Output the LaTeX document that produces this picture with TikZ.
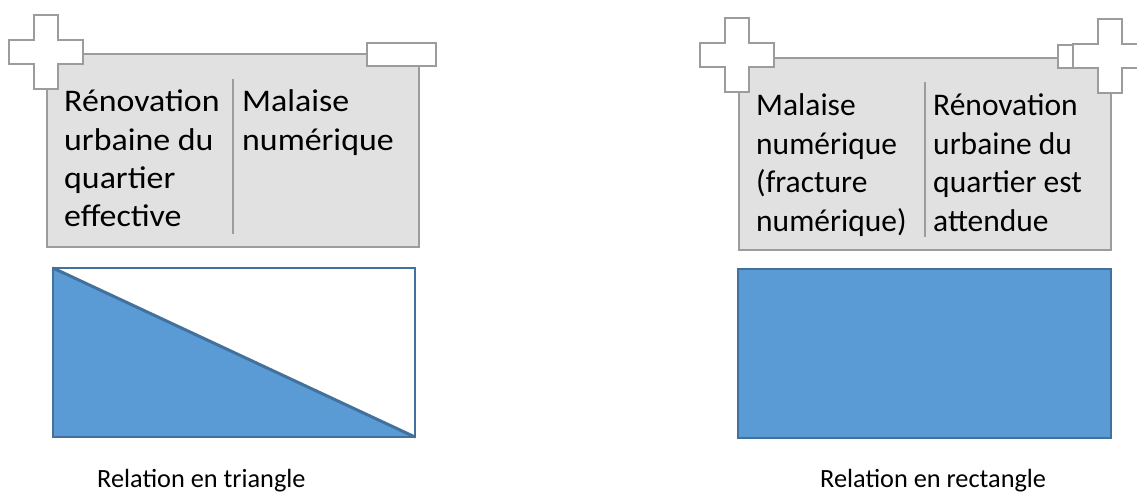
\documentclass[tikz,border=0pt]{standalone}
\usepackage{fontspec}
\setmainfont{Carlito}
\definecolor{boxfill}{HTML}{E1E1E1}
\definecolor{boxline}{HTML}{9C9C9C}
\definecolor{bluefill}{HTML}{5B9BD5}
\definecolor{blueline}{HTML}{41719C}
\tikzset{
  term/.style={draw=boxline, line width=2pt, fill=white},
  battery/.style={draw=boxline, line width=2pt, fill=boxfill},
  divider/.style={draw=boxline, line width=2pt},
  bluebox/.style={draw=blueline, line width=1.8pt},
  coltext/.style={anchor=base west, inner sep=0pt, font=\fontsize{31.5}{38.4}\selectfont},
  caption/.style={anchor=base west, inner sep=0pt, font=\fontsize{26.3}{30}\selectfont},
  plusterm/.pic={
    \path[term] (-12,-37) -- (12,-37) -- (12,-12) -- (37,-12) -- (37,12) -- (12,12)
      -- (12,37) -- (-12,37) -- (-12,12) -- (-37,12) -- (-37,-12) -- (-12,-12) -- cycle;
  }
}
\begin{document}
\begin{tikzpicture}[x=1pt,y=-1pt]
\useasboundingbox (0,0) rectangle (1137,492);
% ---------- left battery ----------
\path[battery] (47,54) rectangle (419,247);
\pic at (45.5,52.5) {plusterm};
\path[term] (367,43) rectangle (436,66);
\coordinate (d1t) at (233,79);
\coordinate (d1b) at (233,234);
\draw[divider] (d1t) -- (d1b);
\node[coltext] (l1) at (64,111.7) {\scalebox{1.075}[1]{\begin{tabular}[t]{@{}l@{}}Rénovation\\urbaine du\\quartier\\effective\end{tabular}}};
\node[coltext] (l2) at (242,111.7) {\scalebox{1.075}[1]{\begin{tabular}[t]{@{}l@{}}Malaise\\numérique\end{tabular}}};
% ---------- right battery ----------
\path[battery] (739,58) rectangle (1111,250);
\pic at (736.5,55) {plusterm};
\path[term] (1058,45) rectangle (1100,68);
\pic at (1110,56.5) {plusterm};
\coordinate (d2t) at (925,82);
\coordinate (d2b) at (925,237);
\draw[divider] (d2t) -- (d2b);
\node[coltext] (r1) at (756,116) {\begin{tabular}[t]{@{}l@{}}Malaise\\numérique\\(fracture\\numérique)\end{tabular}};
\node[coltext] (r2) at (933,116) {\begin{tabular}[t]{@{}l@{}}Rénovation\\urbaine du\\quartier est\\attendue\end{tabular}};
% ---------- triangle relation ----------
\path[bluebox, fill=white] (53,268) rectangle (415,437);
\fill[bluefill] (53,268) -- (53,437) -- (415,437) -- cycle;
\draw[bluebox] (53,268) rectangle (415,437);
\draw[blueline, line width=3pt] (53,268) -- (415,437);
\node[caption] (c1) at (97,487.5) {Relation en triangle};
% ---------- rectangle relation ----------
\path[bluebox, fill=bluefill] (738,269) rectangle (1111,438);
\node[caption] (c2) at (820,487.5) {Relation en rectangle};
\end{tikzpicture}
\end{document}
